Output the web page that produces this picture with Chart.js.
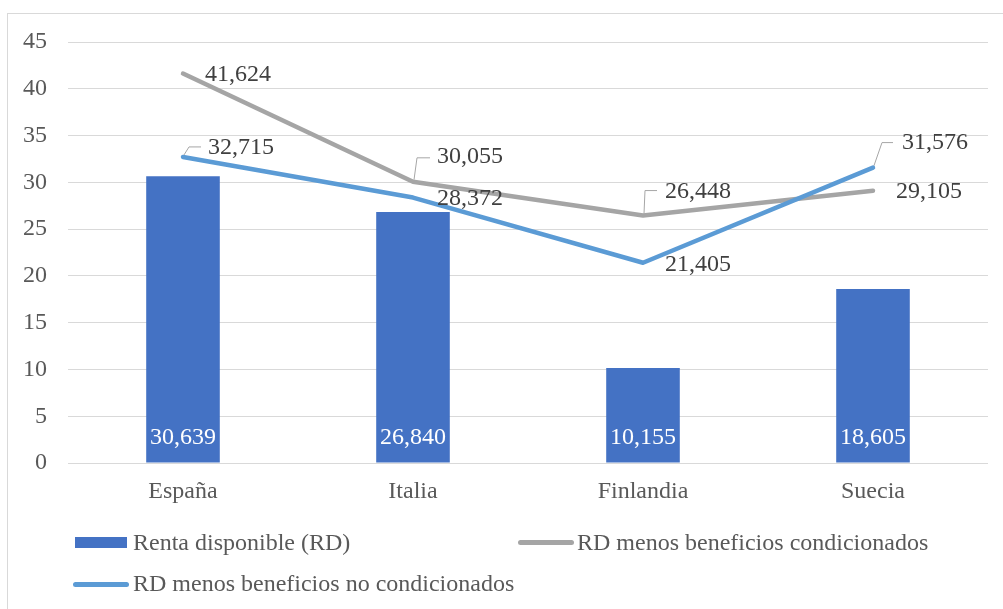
<!DOCTYPE html>
<html>
<head>
<meta charset="utf-8">
<script src="https://cdn.jsdelivr.net/npm/chart.js@4"></script>
<style>
  html, body { margin: 0; padding: 0; background: #fff; overflow: hidden; }
  #wrap { position: relative; width: 1003px; height: 609px; }
  #frame { position: absolute; left: 7px; top: 13px; width: 1010px; height: 620px; border: 1px solid #d9d9d9; box-sizing: border-box; }
  #c { position: absolute; left: 0; top: 0; }
  .leg { position: absolute; font-family: 'Liberation Serif'; font-size: 24px; color: #595959; white-space: nowrap; line-height: 28px; }
  .sw { position: absolute; }
</style>
</head>
<body>
<div id="wrap">
  <div id="frame"></div>
  <canvas id="c" width="1003" height="609"></canvas>
  <div class="sw" style="left:75px;top:537px;width:52px;height:11px;background:#4472c4"></div>
  <div class="leg" style="left:133px;top:528px">Renta disponible (RD)</div>
  <div class="sw" style="left:518px;top:540px;width:56px;height:5px;border-radius:3px;background:#a5a5a5"></div>
  <div class="leg" style="left:577px;top:528px">RD menos beneficios condicionados</div>
  <div class="sw" style="left:73px;top:582px;width:56px;height:5px;border-radius:3px;background:#5b9bd5"></div>
  <div class="leg" style="left:133px;top:569px">RD menos beneficios no condicionados</div>
</div>
<script>
const categories = ['España', 'Italia', 'Finlandia', 'Suecia'];
const rentaDisponible = [30.639, 26.840, 10.155, 18.605];
const menosCondicionados = [41.624, 30.055, 26.448, 29.105];
const menosNoCondicionados = [32.715, 28.372, 21.405, 31.576];
const yTicks = [0, 5, 10, 15, 20, 25, 30, 35, 40, 45];

const FONT = "'Liberation Serif'";

// label placement (style): dx, dy of text left/center relative to point, optional leader
const labelStyle = {
  1: [ {dx:22, dy:1}, {dx:24, dy:-25, leader:[4,-24,17]}, {dx:22, dy:-24, leader:[2,-25,14]}, {dx:23, dy:1} ],
  2: [ {dx:25, dy:-9, leader:[6,-10,18]}, {dx:24, dy:1}, {dx:22, dy:2}, {dx:29, dy:-25, leader:[9,-25,20]} ]
};

const fmt = v => v.toFixed(3).replace('.', ',');

const labelPlugin = {
  id: 'labels',
  afterDatasetsDraw(chart) {
    const ctx = chart.ctx;
    ctx.save();
    ctx.font = '24px ' + FONT;
    ctx.textBaseline = 'middle';
    const barMeta = chart.getDatasetMeta(0);
    const ys = chart.scales.y;
    barMeta.data.forEach((el, i) => {
      ctx.fillStyle = '#ffffff';
      ctx.textAlign = 'center';
      ctx.fillText(fmt(chart.data.datasets[0].data[i]), el.x, ys.getPixelForValue(0) - 25);
    });
    [1, 2].forEach(di => {
      const meta = chart.getDatasetMeta(di);
      meta.data.forEach((el, i) => {
        const st = labelStyle[di][i];
        if (st.leader) {
          ctx.strokeStyle = '#a6a6a6';
          ctx.lineWidth = 1;
          ctx.beginPath();
          ctx.moveTo(el.x + 1, el.y - 2);
          ctx.lineTo(el.x + st.leader[0], el.y + st.leader[1]);
          ctx.lineTo(el.x + st.leader[2], el.y + st.leader[1]);
          ctx.stroke();
        }
        ctx.fillStyle = '#404040';
        ctx.textAlign = 'left';
        ctx.fillText(fmt(chart.data.datasets[di].data[i]), el.x + st.dx, el.y + st.dy);
      });
    });
    ctx.restore();
  }
};

function build() {
  new Chart(document.getElementById('c'), {
    data: {
      labels: categories,
      datasets: [
        { type: 'bar', label: 'Renta disponible (RD)', data: rentaDisponible, backgroundColor: '#4472c4',
          barPercentage: 0.32, categoryPercentage: 1, order: 3 },
        { type: 'line', label: 'RD menos beneficios condicionados', data: menosCondicionados, borderColor: '#a5a5a5',
          borderWidth: 4.5, pointRadius: 0, tension: 0, borderCapStyle: 'round', borderJoinStyle: 'round', order: 2 },
        { type: 'line', label: 'RD menos beneficios no condicionados', data: menosNoCondicionados, borderColor: '#5b9bd5',
          borderWidth: 4.5, pointRadius: 0, tension: 0, borderCapStyle: 'round', borderJoinStyle: 'round', order: 1 }
      ]
    },
    options: {
      responsive: false,
      animation: false,
      events: [],
      layout: { padding: { top: 42, right: 15, left: 0, bottom: 0 } },
      plugins: { legend: { display: false }, tooltip: { enabled: false } },
      scales: {
        x: {
          grid: { display: false },
          border: { display: false },
          ticks: { color: '#595959', font: { family: FONT, size: 24 }, padding: 6 },
          afterFit(s) { s.height = 146; }
        },
        y: {
          min: 0, max: 45,
          afterBuildTicks(s) { s.ticks = yTicks.map(v => ({ value: v })); },
          grid: { color: '#d9d9d9', lineWidth: 1, drawTicks: false },
          border: { display: false },
          ticks: { color: '#595959', font: { family: FONT, size: 24 }, padding: 21 },
          afterFit(s) { s.width = 68; }
        }
      }
    },
    plugins: [labelPlugin]
  });
}
if (document.fonts && document.fonts.load) {
  document.fonts.load("24px 'Liberation Serif'").then(build, build);
} else { build(); }
</script>
</body>
</html>
